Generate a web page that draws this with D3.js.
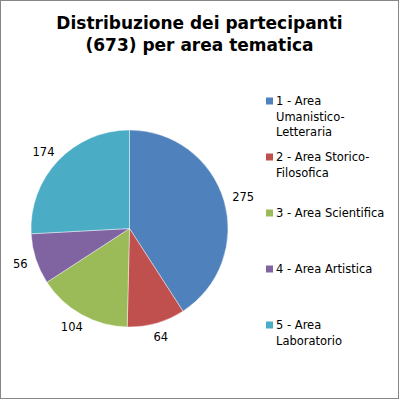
<!DOCTYPE html>
<html><head><meta charset="utf-8">
<script src="https://cdn.jsdelivr.net/npm/d3@7"></script>
<style>html,body{margin:0;padding:0;background:#fff;}svg{display:block;}</style>
</head><body>
<svg id="c" width="400" height="400"></svg>
<script>
const categories = ["1 - Area Umanistico-Letteraria","2 - Area Storico-Filosofica","3 - Area Scientifica","4 - Area Artistica","5 - Area Laboratorio"];
const legendLines = [["1 - Area","Umanistico-","Letteraria"],["2 - Area Storico-","Filosofica"],["3 - Area Scientifica"],["4 - Area Artistica"],["5 - Area","Laboratorio"]];
const values = [275, 64, 104, 56, 174];
const colors = ["#4F81BD","#C0504D","#9BBB59","#8064A2","#4BACC6"];
const titleLines = ["Distribuzione dei partecipanti","(673) per area tematica"];

const svg = d3.select("#c");
const font = "'DejaVu Sans', Verdana, sans-serif";
svg.append("rect").attr("x",0.5).attr("y",0.5).attr("width",398).attr("height",398)
  .attr("fill","#fff").attr("stroke","#868686").attr("stroke-width",1);

svg.append("g").selectAll("text").data(titleLines).join("text")
  .attr("x",199.5).attr("y",(d,i)=>29+i*22).attr("text-anchor","middle")
  .attr("font-family",font).attr("font-weight","bold").attr("font-size",17)
  .attr("fill","#000").text(d=>d);

const cx = 129.5, cy = 228.5, R = 98.5;
const pie = d3.pie().sort(null).value(d=>d);
const arcs = pie(values);
const arc = d3.arc().innerRadius(0).outerRadius(R);
const g = svg.append("g").attr("transform",`translate(${cx},${cy})`);
g.selectAll("path").data(arcs).join("path")
  .attr("d",arc).attr("fill",(d,i)=>colors[i])
  .attr("stroke","#fff").attr("stroke-width",0.6).attr("stroke-opacity",0.7);

const lbl = g.selectAll("text").data(arcs).join("text")
  .attr("font-family",font).attr("font-size",11.5).attr("fill","#000")
  .attr("text-anchor","middle").text(d=>d.value);
lbl.each(function(d){
  const a = (d.startAngle+d.endAngle)/2;
  const s = Math.sin(a), c = -Math.cos(a);
  const w = this.getComputedTextLength(), h = 9;
  const r = R + 9;
  const x = r*s + s*w/2, y = r*c + c*h/2;
  d3.select(this).attr("x",x).attr("y",y+h/2);
});

const leg = svg.append("g").selectAll("g").data(categories).join("g")
  .attr("transform",(d,i)=>`translate(266,${101+i*56})`);
leg.append("rect").attr("x",0).attr("y",-3.5).attr("width",7).attr("height",7)
  .attr("fill",(d,i)=>colors[i]);
leg.each(function(d,i){
  d3.select(this).selectAll("text").data(legendLines[i]).join("text")
    .attr("x",10).attr("y",(t,j)=>4+j*15.7)
    .attr("font-family",font).attr("font-size",11.5).attr("fill","#000").text(t=>t);
});
</script>
</body></html>
